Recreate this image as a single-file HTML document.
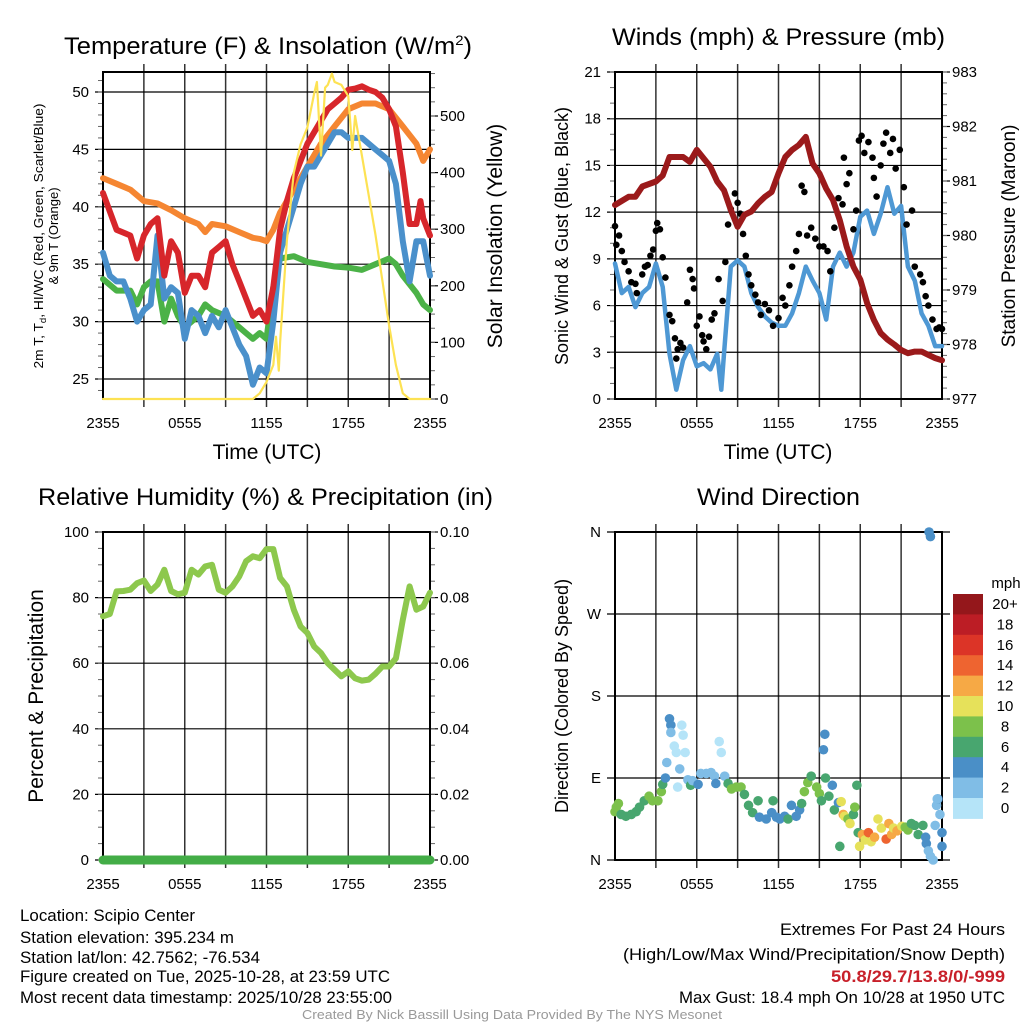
<!DOCTYPE html>
<html><head><meta charset="utf-8"><style>
html,body{margin:0;padding:0;background:#fff;}
svg{display:block;font-family:"Liberation Sans",Arial,sans-serif;}
</style></head><body>
<svg id="fig" width="1024" height="1024" viewBox="0 0 1024 1024" xmlns="http://www.w3.org/2000/svg">
<rect width="1024" height="1024" fill="#fff"/>
<g id="layer"></g>
<!-- titles -->
<text x="64" y="54" font-size="24" textLength="408" lengthAdjust="spacingAndGlyphs">Temperature (F) &amp; Insolation (W/m<tspan dy="-9" font-size="14">2</tspan><tspan dy="9">)</tspan></text>
<text x="612" y="45" font-size="24" textLength="333" lengthAdjust="spacingAndGlyphs">Winds (mph) &amp; Pressure (mb)</text>
<text x="38" y="505" font-size="24" textLength="455" lengthAdjust="spacingAndGlyphs">Relative Humidity (%) &amp; Precipitation (in)</text>
<text x="697" y="505" font-size="24" textLength="163" lengthAdjust="spacingAndGlyphs">Wind Direction</text>
<!-- axis titles -->
<text transform="translate(43,236) rotate(-90)" text-anchor="middle" font-size="13" textLength="265" lengthAdjust="spacingAndGlyphs">2m T, T<tspan dy="3" font-size="9">d</tspan><tspan dy="-3">, HI/WC (Red, Green, Scarlet/Blue)</tspan></text>
<text transform="translate(58,236) rotate(-90)" text-anchor="middle" font-size="13">&amp; 9m T (Orange)</text>
<text transform="translate(502,236) rotate(-90)" text-anchor="middle" font-size="21">Solar Insolation (Yellow)</text>
<text x="267" y="459" text-anchor="middle" font-size="21">Time (UTC)</text>
<text x="778" y="459" text-anchor="middle" font-size="21">Time (UTC)</text>
<text transform="translate(568,236) rotate(-90)" text-anchor="middle" font-size="18">Sonic Wind &amp; Gust (Blue, Black)</text>
<text transform="translate(1015,236) rotate(-90)" text-anchor="middle" font-size="19">Station Pressure (Maroon)</text>
<text transform="translate(43,696) rotate(-90)" text-anchor="middle" font-size="21">Percent &amp; Precipitation</text>
<text transform="translate(568,696) rotate(-90)" text-anchor="middle" font-size="18">Direction (Colored By Speed)</text>
<!-- footer -->
<g font-size="16.5">
<text x="20" y="921" textLength="175" lengthAdjust="spacingAndGlyphs">Location: Scipio Center</text>
<text x="20" y="943" textLength="214" lengthAdjust="spacingAndGlyphs">Station elevation: 395.234 m</text>
<text x="20" y="963" textLength="240" lengthAdjust="spacingAndGlyphs">Station lat/lon: 42.7562; -76.534</text>
<text x="20" y="982" textLength="370" lengthAdjust="spacingAndGlyphs">Figure created on Tue, 2025-10-28, at 23:59 UTC</text>
<text x="20" y="1003" textLength="372" lengthAdjust="spacingAndGlyphs">Most recent data timestamp: 2025/10/28 23:55:00</text>
</g>
<g font-size="17" text-anchor="end">
<text x="1005" y="935" textLength="225" lengthAdjust="spacingAndGlyphs">Extremes For Past 24 Hours</text>
<text x="1005" y="960" textLength="382" lengthAdjust="spacingAndGlyphs">(High/Low/Max Wind/Precipitation/Snow Depth)</text>
<text x="1005" y="982" fill="#c8202a" font-weight="bold" textLength="174" lengthAdjust="spacingAndGlyphs">50.8/29.7/13.8/0/-999</text>
<text x="1005" y="1003" textLength="326" lengthAdjust="spacingAndGlyphs">Max Gust: 18.4 mph On 10/28 at 1950 UTC</text>
</g>
<text x="512" y="1019" text-anchor="middle" font-size="13" fill="#999" textLength="420" lengthAdjust="spacingAndGlyphs">Created By Nick Bassill Using Data Provided By The NYS Mesonet</text>
</svg>
<script>
// ---- data ----
const xTickHours = [0, 6, 12, 18, 24];
const xTickLabels = ["2355", "0555", "1155", "1755", "2355"];
const redT = [0,1,2,2.5,3,3.5,4,4.5,5,5.5,6,6.5,7,7.5,8,8.5,9,9.5,10,10.5,11,11.5,12,12.5,13,13.5,14,14.5,15,15.5,16,16.5,17,17.5,18,18.5,19,19.5,20,20.5,21,21.5,22,22.5,23,23.3,23.5,24];
const redV = [41.2,38,37.5,35.5,37.5,38.5,39,34,37,36,32.5,34,34,33,36,36.5,37,35,33.5,32,30.5,31,30,33,38,40.5,42.5,44,45.5,46.5,47.5,48.5,49,49.5,50.2,50.3,50.5,50.2,50,49.5,48.5,47,43,38.5,38.5,40.5,39,37.5];
const orangeT = [0,1,2,3,4,5,6,7,7.5,8,9,10,11,11.5,12,12.5,13,14,15,16,17,18,19,20,21,22,23,23.5,24];
const orangeV = [42.5,42,41.5,40.5,40.3,39.7,39,38.5,37.8,38.5,38.3,37.8,37.3,37.2,37,38,39.5,41.5,43.5,45.5,47,48.5,49,49,48.5,47,45.5,44,45];
const blueT = [0,0.5,1,1.5,2,2.5,3,3.5,4,4.5,5,5.5,6,6.5,7,7.5,8,8.5,9,9.5,10,10.5,11,11.5,12,12.5,13,13.5,14,14.5,15,15.5,16,16.5,17,17.5,18,18.5,19,19.5,20,20.5,21,21.5,22,22.5,23,23.5,24];
const blueV = [36,34,33.5,33.5,32,30,31,31.5,37.5,32,33,32.5,28.5,31,30.5,29,30.5,29.5,31,29.5,28,27,24.5,26,25.5,30,36,38,40,42,43.5,43.5,44.5,45.5,46.5,46.5,46,46,46,45.5,45,44.5,44,42,37,33.5,37,37,34];
const greenT = [0,1,2,2.5,3,3.5,4,4.5,5,5.5,6,6.5,7,7.5,8,9,9.5,10,10.5,11,11.5,12,12.5,13,14,15,16,17,18,19,20,21,21.5,22,23,23.5,24];
const greenV = [33.7,32.7,32.7,31.5,33,33.5,33.5,30,32,30.5,29.5,30,30.5,31.5,31,30.5,30,29.5,29,28.5,29,28.5,33,35.5,35.7,35.2,35,34.8,34.7,34.5,35,35.5,35,34,32.5,31.5,31];
const solarT = [0,11,11.5,12,12.5,12.7,12.9,13,13.5,14,14.5,15,15.5,15.7,16,16.3,16.5,16.8,17,17.5,18,18.3,18.5,19,19.5,20,20.5,21,21.5,22,22.5,24];
const solarV = [0,0,10,30,60,110,50,100,280,400,450,480,540,560,430,550,555,575,560,555,535,440,500,430,360,290,210,130,60,10,0,0];
const pressT = [0,1,1.5,2,3,3.5,4,5,5.5,6,7,7.5,8,8.5,9,9.5,10,10.5,11,11.5,12,12.5,13,13.5,14,14.5,15,15.5,16,16.5,17,17.5,18,18.5,19,19.5,20,20.5,21,21.5,22,22.5,23,23.5,24];
const pressV = [980.56,980.71,980.71,980.9,980.99,981.1,981.44,981.44,981.35,981.57,981.26,980.99,980.83,980.47,980.16,980.38,980.44,980.59,980.71,980.8,981.14,981.44,981.57,981.66,981.81,981.32,981.14,980.86,980.65,980.28,979.8,979.43,979.19,978.76,978.45,978.21,978.09,978.0,977.9,977.84,977.87,977.87,977.81,977.75,977.71];
const windT = [0,0.5,1,1.5,2,2.5,3,3.5,4,4.5,5,5.5,6,6.5,7,7.5,7.8,8,8.5,9,9.5,10,10.5,11,11.5,12,12.5,13,13.5,14,14.5,15,15.5,16,16.5,17,17.5,18,18.5,19,19.5,20,20.5,21,21.5,22,22.5,23,23.5,24];
const windV = [8.7,6.8,7.2,5.9,6.8,7.2,8.7,7.2,2.9,0.6,2.5,3.4,2.1,2.3,1.9,2.9,0.6,2.9,8.5,8.9,8.5,6.8,5.9,5.3,4.9,4.7,4.7,5.5,6.8,8.5,7.6,6.8,5.1,8.5,9.4,8.5,9.4,11.7,12.1,10.6,11.9,13.6,11.9,12.4,8.5,7.6,5.5,4.7,3.4,3.4];
const gustT = [0,0.1,0.3,0.5,0.7,1,1.2,1.5,1.6,2,2.2,2.4,2.6,2.8,3,3.1,3.3,3.5,3.7,4,4.2,4.4,4.5,4.6,4.8,5,5.3,5.5,5.7,5.8,6,6.2,6.4,6.5,6.7,6.9,7.1,7.3,7.6,7.9,8.1,8.3,8.5,8.8,9,9.2,9.4,9.6,9.8,10,10.3,10.5,10.7,11,11.3,11.6,12,12.3,12.5,12.8,13,13.3,13.5,13.7,13.9,14.1,14.4,14.7,15,15.3,15.6,15.8,16.1,16.4,16.7,16.8,17,17.2,17.5,17.7,17.9,18.1,18.3,18.6,18.9,19,19.2,19.5,19.7,19.9,20.2,20.4,20.6,20.9,21.2,21.4,21.8,22,22.4,22.6,22.8,23,23.3,23.6,23.8,24];
const gustV = [11.1,9.9,10.5,9.5,8.8,8.2,7.5,7.4,6.8,8,8.5,8.6,9.2,9.6,10.8,11.3,10.9,9.1,7.8,5.4,5,3.9,2.6,3.2,3.6,3.3,6.2,8.3,7.7,7.1,4.7,5.3,4.1,3.7,3.2,4,5.1,5.5,7.7,6.3,8.8,11.2,12.2,13.2,12.6,11.9,10.6,9.2,8,7.3,6.7,6.2,5.4,6.1,5.7,4.7,5.2,6.5,6,7.3,8.5,9.5,10.6,13.7,13.3,10.5,11,10.3,9.8,9.8,9.5,8.2,11,12.9,12.5,15.5,13.8,14.5,10.9,12.1,16.6,16.9,15.8,16.5,15.5,14.2,13,15,16.4,17.1,15.8,16.7,14.8,16,13.6,11.2,12.1,8.5,8,7.5,6.6,6,5.1,4.5,4.6,4.5];
const rhT = [0,0.5,1,1.5,2,2.5,3,3.5,4,4.5,5,5.5,6,6.5,7,7.5,8,8.5,9,9.5,10,10.5,11,11.5,12,12.5,13,13.5,14,14.5,15,15.5,16,16.5,17,17.5,18,18.5,19,19.5,20,20.5,21,21.5,22,22.5,23,23.5,24];
const rhV = [74.3,75,81.9,82,82.4,84.4,85.2,82,84,88.5,82,81,81.5,88.5,87,89.5,90,82.4,81.5,83.4,86.5,91.1,92.6,92,94.8,94.8,86,83.4,76.3,71.2,69.2,65.1,63.1,60,58,56,57.5,55.4,54.7,55,56.8,59,59,61.5,73.2,83.4,76.3,77.3,81.5];
const precipT = [0,24];
const precipV = [0,0];
const dirT = [0,0.1,0.25,0.45,0.8,1.2,1.55,1.8,2.15,2.5,2.75,3.15,3.4,3.5,3.7,3.8,4,4.1,4.1,4.35,4.5,4.6,4.75,4.9,5,5.15,5.35,5.55,5.7,6.1,6.3,6.7,7.05,7.3,7.4,7.65,7.8,8.05,8.3,8.55,8.9,9.25,9.5,9.8,10.1,10.5,10.6,11.1,11.5,11.6,11.85,12.1,12.45,12.7,12.95,13.3,13.55,13.7,13.9,14.15,14.4,14.8,15,15.15,15.3,15.4,15.45,15.7,15.95,16.1,16.4,16.5,16.6,16.75,16.85,17.1,17.25,17.5,17.6,17.75,17.85,17.95,18.15,18.35,18.6,18.8,19.05,19.3,19.55,19.9,20.1,20.3,20.45,20.7,21.05,21.3,21.5,21.75,22,22.25,22.6,22.8,22.85,23,23.15,23.35,23.05,23.15,23.5,23.6,23.7,23.85,24,24,23.65];
const dirV = [53,58,62,50,48,50,53,58,65,70,65,65,75,83,90,107,155,148,140,125,118,80,100,148,137,118,88,82,87,83,95,95,96,92,84,130,118,92,84,78,80,80,72,60,52,65,47,45,52,65,47,45,48,45,60,48,55,62,75,85,92,80,73,65,121,138,90,70,82,55,63,15,64,50,48,45,40,50,58,82,30,15,28,22,30,20,25,45,35,23,40,28,35,32,37,36,33,40,38,28,38,25,18,10,4,0,360,355,38,60,67,50,30,15,67];
const dirSpeed = [8,8,8,6,6,6,6,6,6,8,8,8,8,6,4,2,4,4,2,0,0,0,2,0,0,0,2,6,2,4,2,2,2,2,4,0,0,2,6,8,8,8,6,6,6,6,4,4,4,6,4,4,4,6,4,4,4,6,8,8,6,8,8,6,4,4,6,6,4,6,4,6,10,12,10,8,10,6,8,6,6,10,12,10,14,10,12,10,10,14,12,12,10,12,10,8,8,6,6,6,6,4,4,2,2,2,4,4,2,2,4,2,4,4,2];
const cbarLabels = ["20+","18","16","14","12","10","8","6","4","2","0"];
const cbarColors = ["#94171b","#bc1d25","#dc3427","#ee6430","#f6a945","#e6e15a","#7cc14b","#48a66f","#4a8fc7","#80bde6","#b5e4f8"];

// ---- helpers ----
const NS = "http://www.w3.org/2000/svg";
const layer = document.getElementById("layer");
function mk(tag, attrs, parent) {
  const e = document.createElementNS(NS, tag);
  for (const k in attrs) e.setAttribute(k, attrs[k]);
  (parent || layer).appendChild(e);
  return e;
}
function scale(d0, d1, r0, r1) { return v => r0 + (v - d0) / (d1 - d0) * (r1 - r0); }

const P1 = {x0:103,x1:430,y0:72,y1:399};
const P2 = {x0:615,x1:942,y0:72,y1:399};
const P3 = {x0:103,x1:430,y0:532,y1:860};
const P4 = {x0:615,x1:942,y0:532,y1:860};

function frame(P, name, yL, yR, ticksL, labelsL, minorL, ticksR, labelsR, minorR, labelFont) {
  const g = mk("g", {});
  
  
  const xs = scale(0, 24, P.x0, P.x1);
  for (let h = 3; h < 24; h += 3) {
    const l = mk("line", {x1:xs(h),x2:xs(h),y1:P.y0-8,y2:P.y1+8,stroke:"#333","stroke-width":1.5}, g);
    
    
  }
  ticksL.forEach(v => {
    const y = yL(v);
    const l = mk("line", {x1:P.x0-8,x2:P.x1+(yR?0:8),y1:y,y2:y,stroke:"#000","stroke-width":1.2}, g);
    
    
  });
  minorL.forEach(v => { const y = yL(v); mk("line", {x1:P.x0-5,x2:P.x0,y1:y,y2:y,stroke:"#666","stroke-width":1}, g); });
  labelsL.forEach((s, i) => {
    const t = mk("text", {x:P.x0-14,y:yL(ticksL[i])+5,"text-anchor":"end","font-size":labelFont||15}, g);
    t.textContent = s;
    
    
  });
  if (yR) {
    ticksR.forEach(v => { const y = yR(v); mk("line", {x1:P.x1,x2:P.x1+8,y1:y,y2:y,stroke:"#000","stroke-width":1.2}, g); });
    minorR.forEach(v => { const y = yR(v); mk("line", {x1:P.x1,x2:P.x1+5,y1:y,y2:y,stroke:"#666","stroke-width":1}, g); });
    labelsR.forEach((s, i) => {
      const t = mk("text", {x:P.x1+10,y:yR(ticksR[i])+5,"font-size":15}, g);
      t.textContent = s;
      
      
    });
  }
  xTickHours.forEach((h, i) => {
    const t = mk("text", {x:xs(h),y:P.y1+29,"text-anchor":"middle","font-size":15}, g);
    t.textContent = xTickLabels[i];
    
    
  });
  mk("rect", {x:P.x0,y:P.y0,width:P.x1-P.x0,height:P.y1-P.y0,fill:"none",stroke:"#000","stroke-width":2}, g);
  return xs;
}
function line(T, V, xs, ys, color, w, name) {
  const d = T.map((t, i) => (i ? "L" : "M") + xs(t).toFixed(1) + "," + ys(V[i]).toFixed(1)).join("");
  const p = mk("path", {d:d,fill:"none",stroke:color,"stroke-width":w,"stroke-linejoin":"round","stroke-linecap":"round"});
  
  
  return p;
}
function range(a, b, s) { const r = []; for (let v = a; v <= b + 1e-9; v += s) r.push(+v.toFixed(4)); return r; }

// ---- panel 1: temperature ----
const y1T = scale(50, 25, 92, 379);
const y1S = scale(0, 500, 399, 116);
const x1 = frame(P1, "temperature-panel", y1T, y1S,
  [25,30,35,40,45,50], ["25","30","35","40","45","50"], range(24,51,1),
  [0,100,200,300,400,500], ["0","100","200","300","400","500"], range(0,575,25));
line(orangeT, orangeV, x1, y1T, "#f58632", 6, "series-9m-temp");
line(greenT, greenV, x1, y1T, "#4bb247", 6, "series-dewpoint");
line(blueT, blueV, x1, y1T, "#4a90cb", 6, "series-windchill");
line(redT, redV, x1, y1T, "#d7262b", 6, "series-2m-temp");
line(solarT, solarV, x1, y1S, "#fde253", 2.2, "series-solar");

// ---- panel 2: winds ----
const y2W = scale(0, 21, 399, 72);
const y2P = scale(977, 983, 399, 72);
const x2 = frame(P2, "winds-panel", y2W, y2P,
  range(0,21,3), range(0,21,3).map(String), range(0,21,1),
  range(977,983,1), range(977,983,1).map(String), range(977,983,0.2));
line(windT, windV, x2, y2W, "#4e98d4", 4.5, "series-wind-speed");
gustT.forEach((t, i) => {
  const c = mk("circle", {cx:x2(t),cy:y2W(gustV[i]),r:3.3,fill:"#000"});
  
  
});
line(pressT, pressV, x2, y2P, "#9b1a1b", 6, "series-pressure");

// ---- panel 3: humidity ----
const y3H = scale(0, 100, 860, 532);
const y3R = scale(0, 0.1, 860, 532);
const x3 = frame(P3, "humidity-panel", y3H, y3R,
  range(0,100,20), range(0,100,20).map(String), range(0,100,5),
  range(0,0.1,0.02), ["0.00","0.02","0.04","0.06","0.08","0.10"], range(0,0.1,0.005));
line(rhT, rhV, x3, y3H, "#8dc84d", 6, "series-humidity");
line(precipT, precipV, x3, y3R, "#43ad47", 9, "series-precipitation");

// ---- panel 4: wind direction ----
const y4D = scale(0, 360, 860, 532);
const x4 = frame(P4, "direction-panel", y4D, null,
  [0,90,180,270,360], ["N","E","S","W","N"], [], [], [], [], 15);
dirT.forEach((t, i) => {
  const bin = Math.min(10, Math.floor(dirSpeed[i] / 2));
  const c = mk("circle", {cx:x4(t),cy:y4D(dirV[i]),r:4.8,fill:cbarColors[10-bin]});
  
  
});
const cb = mk("g", {});


const cbTop = 594, cbH = 20.4;
cbarColors.forEach((col, i) => {
  const r = mk("rect", {x:953,y:cbTop+i*cbH,width:30,height:cbH+0.5,fill:col}, cb);
  
  
  const t = mk("text", {x:1005,y:cbTop+i*cbH+15,"text-anchor":"middle","font-size":15}, cb);
  t.textContent = cbarLabels[i];
  
  
});
const mph = mk("text", {x:1006,y:588,"text-anchor":"middle","font-size":15}, cb);
mph.textContent = "mph";


</script>
</body></html>
